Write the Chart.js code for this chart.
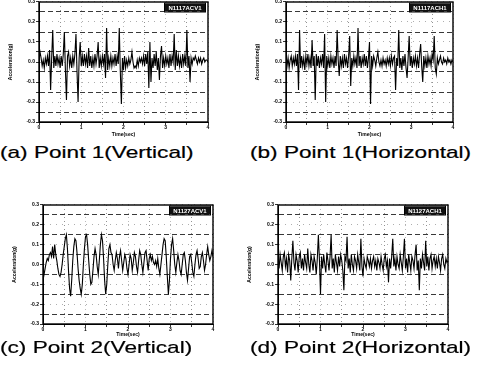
<!DOCTYPE html>
<html><head><meta charset="utf-8">
<script src="https://cdn.jsdelivr.net/npm/chart.js@4"></script>
<style>
body{margin:0;background:#fff;width:488px;height:388px;overflow:hidden;position:relative;font-family:"Liberation Sans",Arial,sans-serif}
canvas{position:absolute}
.cap{position:absolute;font-size:17px;line-height:17px;color:#000;white-space:nowrap;transform-origin:0 0;transform:scaleX(1.33);-webkit-text-stroke:0.2px #000}
</style></head><body>
<canvas id="ca" width="244" height="142" style="left:0;top:0"></canvas>
<canvas id="cb" width="244" height="142" style="left:244px;top:0"></canvas>
<canvas id="cc" width="244" height="142" style="left:0;top:200px"></canvas>
<canvas id="cd" width="244" height="142" style="left:244px;top:200px"></canvas>
<div class="cap" style="left:0;top:144px">(a) Point 1(Vertical)</div>
<div class="cap" style="left:250px;top:144px">(b) Point 1(Horizontal)</div>
<div class="cap" style="left:0;top:339px">(c) Point 2(Vertical)</div>
<div class="cap" style="left:250px;top:339px">(d) Point 2(Horizontal)</div>
<script>
// ---- data ----
const sampleStep = 0.025; // sec
const sampleCount = 161;  // 0 .. 4 sec
const timeSec = Array.from({length: sampleCount}, (_, i) => +(i * sampleStep).toFixed(3));

const yTickValues = [-0.3, -0.2, -0.1, 0.0, 0.1, 0.2, 0.3];
const xTickValues = [0, 1, 2, 3, 4];
const yAxisTitle = "Acceleration(g)";
const xAxisTitle = "Time(sec)";
const seriesNames = ["N1117ACV1", "N1117ACH1", "N1127ACV1", "N1127ACH1"];

const point1Vertical = [
 0.01, 0.05, 0.02,-0.02, 0.01,-0.03, 0.02,-0.01, 0.03,-0.02,
 0.06,-0.14, 0.02, 0.16,-0.03, 0.03,-0.02, 0.04,-0.01, 0.02,
-0.03, 0.03,-0.02, 0.04, 0.15,-0.04,-0.19, 0.03, 0.05,-0.02,
 0.02,-0.03, 0.03,-0.01, 0.04, 0.14,-0.05,-0.20, 0.02, 0.10,
-0.02, 0.03,-0.02, 0.04,-0.01, 0.03,-0.03, 0.07,-0.02, 0.03,
-0.03, 0.02,-0.02, 0.04,-0.01, 0.03, 0.10,-0.03, 0.02,-0.02,
 0.03,-0.01, 0.04,-0.08, 0.17,-0.04, 0.02,-0.02, 0.03,-0.02,
 0.02,-0.01, 0.04,-0.02, 0.03,-0.01, 0.17,-0.05,-0.21, 0.02,
-0.04, 0.03,-0.03, 0.01,-0.02, 0.02,-0.01, 0.01, 0.05, 0.00,
-0.03,-0.02,-0.03, 0.01,-0.02, 0.02, 0.00, 0.02,-0.01, 0.03,
-0.02, 0.04,-0.01, 0.05,-0.13, 0.10,-0.10, 0.02,-0.03, 0.04,
-0.02, 0.05,-0.04, 0.02,-0.09, 0.03, 0.08,-0.03, 0.02,-0.02,
 0.03,-0.01, 0.02,-0.03, 0.04,-0.02, 0.03, 0.00, 0.14,-0.04,
 0.06,-0.02, 0.03,-0.02, 0.02,-0.03, 0.04,-0.01, 0.03,-0.02,
 0.16,-0.03, 0.03,-0.10, 0.02,-0.01, 0.02, 0.01, 0.03, 0.01,
-0.01, 0.02, 0.00, 0.02,-0.01, 0.01, 0.02, 0.00, 0.01, 0.01,
 0.00];

const point1Horizontal = [
 0.05,-0.02, 0.02,-0.03, 0.01, 0.03,-0.02, 0.02,-0.01, 0.03,
-0.02, 0.04,-0.14, 0.16,-0.03, 0.03,-0.02, 0.02,-0.04, 0.03,
-0.01, 0.04,-0.02, 0.02,-0.03, 0.11,-0.02, 0.03,-0.19, 0.04,
-0.02, 0.03,-0.03, 0.02,-0.01, 0.04,-0.03, 0.14,-0.20, 0.03,
-0.02, 0.02,-0.03, 0.03,-0.01, 0.02,-0.03, 0.03,-0.02, 0.16,
 0.01,-0.07, 0.03,-0.02, 0.02,-0.03, 0.04,-0.01, 0.02,-0.03,
 0.03, 0.13,-0.12, 0.02,-0.02, 0.03,-0.01, 0.02,-0.03, 0.17,
-0.02, 0.03,-0.03, 0.02,-0.01, 0.04,-0.02, 0.03,-0.03, 0.02,
 0.10,-0.21, 0.03,-0.02, 0.03, 0.01,-0.02, 0.02, 0.05, 0.00,
-0.02, 0.01,-0.02, 0.02,-0.01, 0.01,-0.02, 0.02,-0.01, 0.02,
-0.02, 0.03,-0.01, 0.02, 0.03,-0.14, 0.02,-0.02, 0.16,-0.03,
 0.02,-0.04, 0.03,-0.02, 0.04,-0.03,-0.08, 0.02, 0.13,-0.02,
 0.03,-0.03, 0.02,-0.01, 0.03,-0.02, 0.02,-0.03, 0.04, 0.09,
-0.02,-0.10, 0.03,-0.02, 0.02,-0.03, 0.03,-0.01, 0.02,-0.02,
 0.04, 0.01, 0.13,-0.03,-0.06, 0.02,-0.01, 0.01, 0.03, 0.00,
-0.01, 0.02, 0.00, 0.01,-0.01, 0.02, 0.00, 0.01,-0.01, 0.01,
 0.00];

const point2Vertical = [
-0.08,-0.05,-0.02, 0.01, 0.03, 0.02, 0.05, 0.06, 0.04, 0.09,
 0.03, 0.10, 0.05, 0.02,-0.02,-0.05,-0.06,-0.04, 0.00, 0.05,
 0.09, 0.13, 0.15, 0.08,-0.03,-0.12,-0.16,-0.08, 0.02, 0.09,
 0.13, 0.12, 0.06,-0.02,-0.08,-0.12,-0.15,-0.10, 0.00, 0.08,
 0.14, 0.15, 0.10, 0.02,-0.05,-0.10,-0.09,-0.03, 0.04, 0.08,
 0.05,-0.01,-0.05, 0.02, 0.10, 0.15, 0.12, 0.03,-0.08,-0.15,
-0.10, 0.00, 0.08, 0.10, 0.06, 0.05, 0.00,-0.03, 0.02, 0.06,
 0.03,-0.02, 0.04, 0.07, 0.02,-0.03, 0.01, 0.05, 0.03,-0.02,
-0.05, 0.00, 0.05, 0.03,-0.03, 0.01, 0.06, 0.04,-0.01,-0.04,
 0.02, 0.07, 0.05, 0.00,-0.04, 0.01, 0.06, 0.07, 0.02,-0.03,
 0.03, 0.05, 0.02, 0.04, 0.01, 0.00, 0.02,-0.01, 0.03,-0.02,
-0.05, 0.00, 0.05, 0.10, 0.13, 0.12, 0.04,-0.06,-0.15,-0.08,
 0.03, 0.10, 0.13, 0.07, 0.00,-0.04, 0.01, 0.05, 0.02,-0.03,
-0.05, 0.00, 0.05, 0.06, 0.02,-0.04,-0.08,-0.02, 0.04, 0.05,
 0.01,-0.04,-0.06, 0.00, 0.05, 0.07, 0.03,-0.02,-0.01, 0.04,
 0.06, 0.02,-0.03, 0.00, 0.05, 0.09, 0.05, 0.02, 0.04, 0.07,
 0.04];

const point2Horizontal = [
 0.03,-0.02, 0.05, 0.01,-0.03, 0.04, 0.06,-0.01, 0.03,-0.04,
 0.05, 0.02,-0.08, 0.03, 0.12, 0.01,-0.03, 0.05, 0.02,-0.04,
 0.04, 0.06,-0.02, 0.03,-0.03, 0.05, 0.01,-0.02, 0.08, 0.00,
-0.04, 0.05, 0.02,-0.03, 0.04, 0.01,-0.05, 0.03, 0.15, 0.02,
-0.15, 0.04,-0.02, 0.05, 0.00,-0.04, 0.06, 0.02,-0.03, 0.04,
 0.15,-0.02, 0.03,-0.04, 0.05, 0.01,-0.03, 0.04,-0.01, 0.05,
 0.02,-0.03,-0.13, 0.04, 0.02, 0.14,-0.02, 0.03,-0.04, 0.05,
 0.00,-0.03, 0.04, 0.02,-0.02, 0.05, 0.01,-0.03, 0.13,-0.01,
-0.06, 0.03, 0.00,-0.02, 0.04, 0.02,-0.01, 0.03,-0.02, 0.02,
 0.04,-0.01, 0.02,-0.03, 0.03, 0.01,-0.02, 0.04, 0.00,-0.03,
 0.03, 0.05,-0.01, 0.02,-0.09, 0.03,-0.02, 0.04, 0.13,-0.01,
 0.03,-0.03, 0.04, 0.00,-0.02, 0.05, 0.01,-0.03, 0.04, 0.13,
-0.02, 0.03,-0.04, 0.05, 0.01,-0.03, 0.04, 0.02,-0.02, 0.05,
 0.10,-0.03, 0.02,-0.13, 0.03,-0.02, 0.05, 0.01,-0.03, 0.12,
-0.01, 0.04,-0.03, 0.03, 0.05,-0.02, 0.02, 0.04,-0.01, 0.03,
-0.02, 0.04, 0.01,-0.03, 0.03, 0.05, 0.00,-0.02, 0.03, 0.01,
 0.02];

// ---- layout (plot area in canvas pixels) ----
const panels = [
  {id:'ca', data: point1Vertical,   name: seriesNames[0], left:39, right:208, top:2, bottom:122},
  {id:'cb', data: point1Horizontal, name: seriesNames[1], left:42, right:209, top:2, bottom:122},
  {id:'cc', data: point2Vertical,   name: seriesNames[2], left:43, right:213, top:5, bottom:124},
  {id:'cd', data: point2Horizontal, name: seriesNames[3], left:34, right:204, top:5, bottom:124}
];

const frameAndTag = {
  id: 'frameAndTag',
  afterDatasetsDraw(chart, args, opts) {
    const {ctx, chartArea: a} = chart;
    ctx.save();
    ctx.strokeStyle = '#000';
    ctx.lineWidth = 1.4;
    ctx.strokeRect(a.left, a.top, a.right - a.left, a.bottom - a.top);
    const bw = 40, bh = 8;
    const bx = a.right - bw - 3, by = a.top + 1.5;
    ctx.fillStyle = '#111';
    ctx.fillRect(bx, by, bw, bh);
    ctx.strokeStyle = '#000';
    ctx.lineWidth = 1;
    ctx.strokeRect(bx - 0.5, by - 0.5, bw + 1, bh + 1);
    ctx.fillStyle = '#fff';
    ctx.font = 'bold 6px "Liberation Sans", Arial, sans-serif';
    ctx.textAlign = 'center';
    ctx.textBaseline = 'middle';
    ctx.fillText(opts.text, bx + bw / 2, by + bh / 2 + 0.5);
    ctx.restore();
  }
};

const W = 244, H = 142;
const tickFont = {family: '"Liberation Sans", Arial, sans-serif', size: 5, weight: 'bold'};

panels.forEach(p => {
  const isMajorY = v => Math.abs(Math.round(v * 100)) % 10 === 0;
  new Chart(document.getElementById(p.id), {
    type: 'line',
    data: {
      datasets: [{
        label: p.name,
        data: timeSec.map((t, i) => ({x: t, y: p.data[i]})),
        borderColor: '#000',
        borderWidth: 1.1,
        pointRadius: 0,
        tension: 0,
        fill: false
      }]
    },
    plugins: [frameAndTag],
    options: {
      responsive: false,
      animation: false,
      events: [],
      layout: {padding: {left: 0, top: p.top, right: W - p.right, bottom: 0}},
      plugins: {
        legend: {display: false},
        tooltip: {enabled: false},
        frameAndTag: {text: p.name}
      },
      scales: {
        x: {
          type: 'linear',
          min: 0, max: 4,
          afterBuildTicks(scale) {
            const t = [];
            for (let k = 0; k <= 8; k++) t.push({value: k * 0.5});
            scale.ticks = t;
          },
          afterFit(scale) { scale.height = H - p.bottom; scale.paddingLeft = 0; scale.paddingRight = 0; },
          ticks: {
            font: tickFont, color: '#000', padding: 0, maxRotation: 0, autoSkip: false,
            callback: v => (xTickValues.includes(v) ? String(v) : '')
          },
          grid: {
            color: c => (c.tick && Number.isInteger(c.tick.value)) ? '#aaa' : '#777',
            lineWidth: 0.8,
            tickLength: 3, tickColor: '#000', tickWidth: 0.8
          },
          border: {color: '#000', width: 1, dash: [1, 3]},
          title: {display: true, text: xAxisTitle, font: tickFont, color: '#000', padding: {top: 0, bottom: 4}}
        },
        y: {
          type: 'linear',
          min: -0.3, max: 0.3,
          afterBuildTicks(scale) {
            const t = [];
            for (let k = -6; k <= 6; k++) t.push({value: k * 0.05});
            scale.ticks = t;
          },
          afterFit(scale) { scale.width = p.left; scale.paddingTop = 0; scale.paddingBottom = 0; },
          ticks: {
            font: tickFont, color: '#000', padding: 1, autoSkip: false,
            callback: v => {
              if (!isMajorY(v)) return '';
              const r = yTickValues.find(y => Math.abs(y - v) < 1e-6);
              return r === undefined ? '' : r.toFixed(1);
            }
          },
          grid: {
            color: c => (c.tick && isMajorY(c.tick.value)) ? '#999' : '#222',
            lineWidth: c => (c.tick && isMajorY(c.tick.value)) ? 0.8 : 0.9,
            tickLength: 3, tickColor: '#000', tickWidth: 0.8
          },
          border: {
            color: '#000', width: 1,
            dash: c => (c.tick && isMajorY(c.tick.value)) ? [1, 5] : [5, 3]
          },
          title: {display: true, text: yAxisTitle, font: tickFont, color: '#000',
                  padding: {top: p.left - 31, bottom: 0}}
        }
      }
    }
  });
});
</script>
</body></html>
